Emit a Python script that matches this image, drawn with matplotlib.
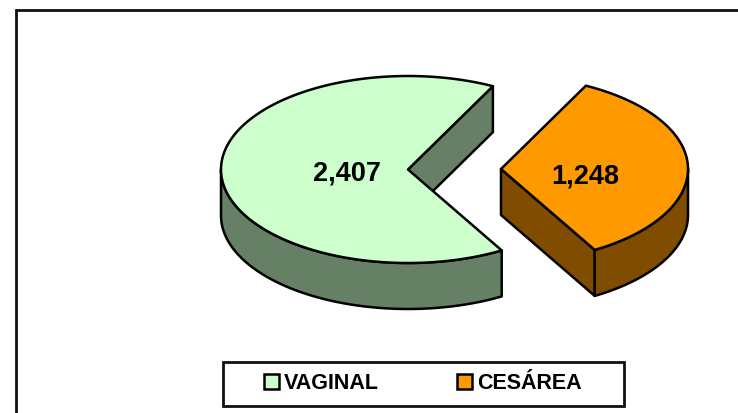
import numpy as np
import matplotlib
matplotlib.use("Agg")
import matplotlib.pyplot as plt
from matplotlib.patches import Rectangle

labels = ["VAGINAL", "CESÁREA"]
values = [2407, 1248]
value_labels = ["2,407", "1,248"]
top_colors = ["#CCFFCC", "#FF9900"]
side_colors = ["#668066", "#804D00"]

plt.rcParams["font.family"] = ["Liberation Sans", "DejaVu Sans"]

RX, RY, DEPTH = 187, 93.5, 46
CENTERS = [(408, 170.5), (501, 170)]
START = 63.0  # angle where the big slice starts, going counterclockwise


def arc(cx, cy, a0, a1, n=200):
    t = np.radians(np.linspace(a0, a1, n))
    return cx + RX * np.cos(t), cy - RY * np.sin(t)


def draw_slice(ax, cx, cy, a0, a1, wall, top, side):
    # walls first, top face goes over them
    ex, ey = arc(cx, cy, wall, wall, 1)
    ax.fill([cx, ex[0], ex[0], cx], [cy, ey[0], ey[0] + DEPTH, cy + DEPTH],
            fc=side, ec="black", lw=1.8, joinstyle="round")
    # outer wall only on the front half of the ellipse
    lo, hi = max(a0, 180), min(a1, 360)
    if a0 < 0:
        lo, hi = a0, min(a1, 0)
    if hi > lo:
        x, y = arc(cx, cy, lo, hi)
        ax.fill(np.r_[x, x[::-1]], np.r_[y, y[::-1] + DEPTH],
                fc=side, ec="black", lw=1.8, joinstyle="round")
    x, y = arc(cx, cy, a0, a1)
    ax.fill(np.r_[cx, x], np.r_[cy, y], fc=top, ec="black", lw=1.8, joinstyle="round")


fig = plt.figure(figsize=(7.38, 4.14), dpi=100)
ax = fig.add_axes([0, 0, 1, 1])
ax.set_xlim(0, 738)
ax.set_ylim(414, 0)
ax.axis("off")

# chart frame, cut by the right and bottom of the picture
ax.plot([16, 16, 738], [414, 11, 11], color="#111111", lw=2.0, solid_joinstyle="miter")

sweep = [v / sum(values) * 360 for v in values]
big_end = START + sweep[0]
draw_slice(ax, *CENTERS[1], big_end - 360, START, big_end - 360, top_colors[1], side_colors[1])
draw_slice(ax, *CENTERS[0], START, big_end, START, top_colors[0], side_colors[0])

ax.text(347.5, 173.5, value_labels[0], ha="center", va="center", fontsize=19.5, fontweight="bold")
ax.text(585.5, 176.5, value_labels[1], ha="center", va="center", fontsize=19.5, fontweight="bold")

# legend box
ax.add_patch(Rectangle((223, 363), 401, 44, fc="white", ec="#111111", lw=2.0))
for label, color, bx in zip(labels, top_colors, [264, 457]):
    ax.add_patch(Rectangle((bx, 375), 15, 15, fc=color, ec="black", lw=1.8))
    ax.text(bx + 20, 384, label, ha="left", va="center", fontsize=15.5, fontweight="bold")

fig.savefig("out.png", dpi=100)
